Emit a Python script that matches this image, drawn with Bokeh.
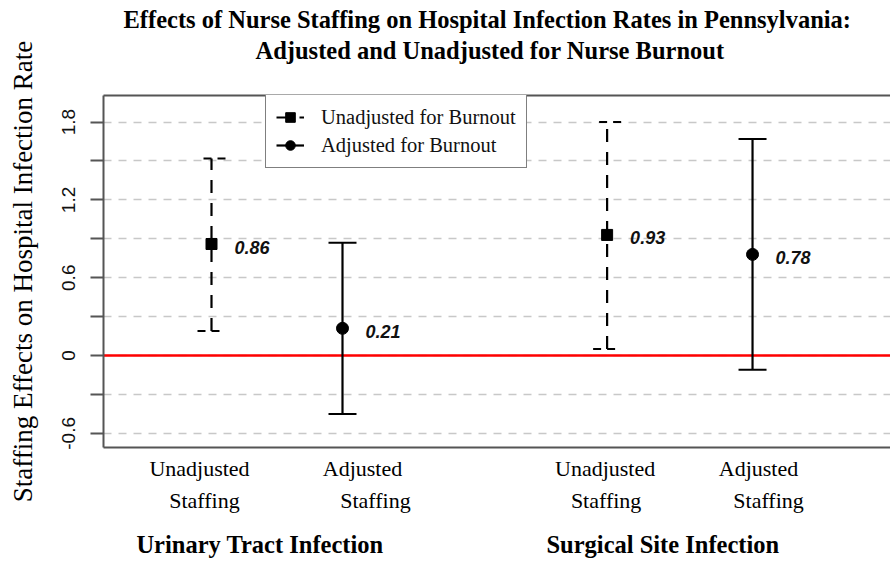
import math
from bokeh.plotting import figure
from bokeh.models import (ColumnDataSource, Range1d, FixedTicker, LinearAxis, Title,
                          Legend, LegendItem, Whisker, TeeHead)
from bokeh.core.properties import value
from bokeh.embed import file_html
from bokeh.resources import INLINE

# ---------------- data ----------------
title_lines = ["Effects of Nurse Staffing on Hospital Infection Rates in Pennsylvania:",
               "Adjusted and Unadjusted for Nurse Burnout"]
y_label = "Staffing Effects on Hospital Infection Rate"
groups = ["Urinary Tract Infection", "Surgical Site Infection"]
group_of = [0, 0, 1, 1]
cat_line1 = ["Unadjusted", "Adjusted", "Unadjusted", "Adjusted"]
cat_line2 = ["Staffing", "Staffing", "Staffing", "Staffing"]
methods = ["Unadjusted for Burnout", "Adjusted for Burnout"]
method_of = [0, 1, 0, 1]
xpos = [1.0, 2.0, 4.02, 5.13]
estimate = [0.86, 0.21, 0.93, 0.78]
ci_low = [0.19, -0.45, 0.05, -0.11]
ci_high = [1.52, 0.87, 1.80, 1.67]
est_labels = ["0.86", "0.21", "0.93", "0.78"]
y_ticks = [-0.6, -0.3, 0.0, 0.3, 0.6, 0.9, 1.2, 1.5, 1.8]
y_tick_labels = ["-0.6", "", "0", "", "0.6", "", "1.2", "", "1.8"]
ref_line = [0.0]

# ---------------- layout constants ----------------
W, H = 890, 562
FRAME_L, FRAME_T, FRAME_B = 103, 95, 447
PX_PER_X = 131.0
X0_PX = 211                      # pixel position of first category
line1_offsets = [-12, 20, -2, 6]
line2_offsets = [-7, 33, -1, 16]
group_offset = -17
SERIF = "Liberation Serif"
SANS = "Liberation Sans"
FRAME_C = "#555555"

x_start = xpos[0] - (X0_PX - FRAME_L) / PX_PER_X
x_end = x_start + (W - FRAME_L) / PX_PER_X


def subset(m):
    idx = [i for i in range(len(xpos)) if method_of[i] == m]
    return ColumnDataSource(dict(
        x=[xpos[i] for i in idx],
        est=[estimate[i] for i in idx],
        lo=[ci_low[i] for i in idx],
        hi=[ci_high[i] for i in idx],
        lab=[est_labels[i] for i in idx],
    ))


src_u = subset(0)
src_a = subset(1)

p = figure(width=W, height=H, title=None,
           x_range=Range1d(x_start, x_end), y_range=Range1d(-0.709, 2.005),
           output_backend="svg", toolbar_location=None,
           min_border_left=FRAME_L, min_border_right=0, min_border_top=FRAME_T,
           min_border_bottom=H - FRAME_B)
p.outline_line_color = None
p.background_fill_color = "white"
p.border_fill_color = "white"
p.xgrid.visible = False

# ---------------- y axis ----------------
ya = p.yaxis[0]
ya.ticker = FixedTicker(ticks=y_ticks)
ya.major_label_overrides = {t: l for t, l in zip(y_ticks, y_tick_labels)}
ya.major_label_orientation = "vertical"
ya.major_tick_out = 13
ya.major_tick_in = 0
ya.minor_tick_line_color = None
ya.major_tick_line_width = 2
ya.major_tick_line_color = FRAME_C
ya.axis_line_width = 2
ya.axis_line_color = FRAME_C
ya.major_label_text_font = SANS
ya.major_label_text_font_size = "19px"
ya.major_label_text_color = "#111111"
ya.major_label_standoff = 15
ya.axis_label = y_label
ya.axis_label_text_font = SERIF
ya.axis_label_text_font_style = "normal"
ya.axis_label_text_font_size = "27px"
ya.axis_label_text_color = "black"
ya.axis_label_standoff = 22


def label_axis(ticks, texts, size, style, standoff, line=False):
    ax = LinearAxis(ticker=FixedTicker(ticks=ticks),
                    major_label_overrides={t: s for t, s in zip(ticks, texts)},
                    major_tick_out=0, major_tick_in=0,
                    major_tick_line_color=None, minor_tick_line_color=None,
                    major_label_standoff=standoff,
                    major_label_text_font=SERIF, major_label_text_font_size=size,
                    major_label_text_font_style=style, major_label_text_color="black")
    if line:
        ax.axis_line_width = 2
        ax.axis_line_color = FRAME_C
    else:
        ax.axis_line_color = None
    return ax


# ---------------- bottom: category and group labels ----------------
p.below = []
t1 = [xpos[i] + line1_offsets[i] / PX_PER_X for i in range(len(xpos))]
t2 = [xpos[i] + line2_offsets[i] / PX_PER_X for i in range(len(xpos))]
tg = []
for g in range(len(groups)):
    xs = [xpos[i] for i in range(len(xpos)) if group_of[i] == g]
    tg.append(sum(xs) / len(xs) + group_offset / PX_PER_X)
p.add_layout(label_axis(t1, cat_line1, "22px", "normal", 8, line=True), "below")
p.add_layout(label_axis(t2, cat_line2, "22px", "normal", 4), "below")
p.add_layout(label_axis(tg, groups, "24.5px", "bold", 15), "below")

# ---------------- top: frame line + titles ----------------
top = LinearAxis(ticker=FixedTicker(ticks=[]), major_label_text_font_size="0px",
                 major_tick_out=0, major_tick_in=0,
                 major_tick_line_color=None, minor_tick_line_color=None,
                 axis_line_width=2, axis_line_color=FRAME_C,
                 axis_label=" ", axis_label_text_font_size="10px", axis_label_standoff=18)
p.add_layout(top, "above")
p.add_layout(Title(text=title_lines[1], align="left", offset=152, standoff=0,
                   text_font=SERIF, text_font_style="bold", text_font_size="24.5px",
                   text_color="black"), "above")
p.add_layout(Title(text=title_lines[0], align="left", offset=20, standoff=4,
                   text_font=SERIF, text_font_style="bold", text_font_size="24.5px",
                   text_color="black"), "above")

# ---------------- grid ----------------
p.ygrid.ticker = FixedTicker(ticks=y_ticks)
p.ygrid.grid_line_color = "#c8c8c8"
p.ygrid.grid_line_dash = "8 7"
p.ygrid.grid_line_width = 1.5

# reference line at zero
p.hspan(y=ref_line, line_color="red", line_width=2.5)

# stems
seg_u = p.segment(x0="x", y0="lo", x1="x", y1="hi", source=src_u,
                  line_color="black", line_width=2.2, line_dash="13 10")
seg_a = p.segment(x0="x", y0="lo", x1="x", y1="hi", source=src_a,
                  line_color="black", line_width=2.2)

# caps
for src, dash in ((src_u, "8 6"), (src_a, "solid")):
    w = Whisker(source=src, base="x", lower="lo", upper="hi", dimension="height",
                line_alpha=0,
                upper_head=TeeHead(size=28, line_width=2, line_color="black", line_dash=dash),
                lower_head=TeeHead(size=28, line_width=2, line_color="black", line_dash=dash))
    p.add_layout(w)

# point estimates
pt_u = p.scatter(x="x", y="est", source=src_u, marker="square", size=11, color="black")
pt_a = p.scatter(x="x", y="est", source=src_a, marker="circle", size=12, color="black")

for src in (src_u, src_a):
    p.text(x="x", y="est", text="lab", source=src, x_offset=23, y_offset=3,
           text_font=value(SANS), text_font_style="bold italic", text_font_size="18px",
           text_baseline="middle", text_align="left", text_color="#111111")

# legend
legend = Legend(items=[LegendItem(label=methods[0], renderers=[seg_u, pt_u]),
                       LegendItem(label=methods[1], renderers=[seg_a, pt_a])],
                location=(162, 279), margin=0, padding=10, spacing=4,
                glyph_width=28, glyph_height=24, label_height=24, label_standoff=17,
                label_text_font=SERIF, label_text_font_size="20.5px", label_text_color="#111111",
                border_line_color="black", border_line_width=1.5,
                background_fill_color="white", background_fill_alpha=1.0)
p.add_layout(legend)

open("out.html", "w").write(file_html(p, INLINE))
